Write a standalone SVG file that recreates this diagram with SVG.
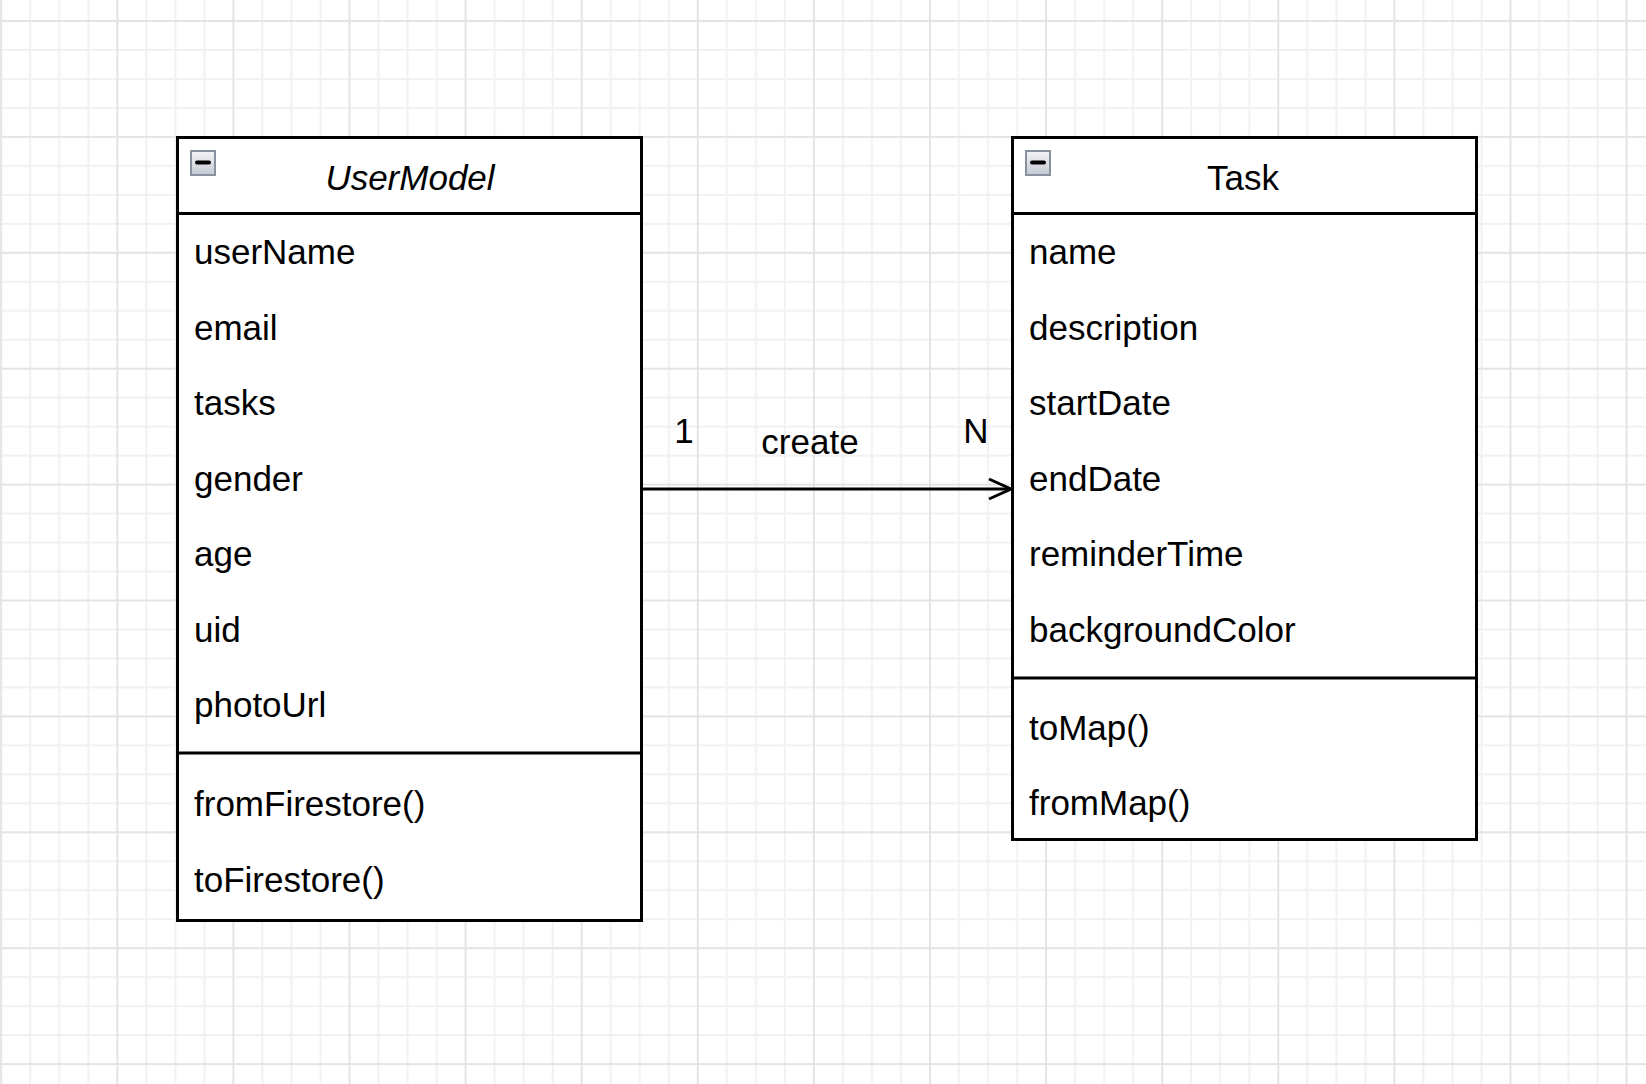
<svg xmlns="http://www.w3.org/2000/svg" width="1646" height="1084" viewBox="0 0 1646 1084">
  <style>
    .box { fill: #ffffff; stroke: #000000; stroke-width: 3; }
    .sep { stroke: #000000; stroke-width: 3; fill: none; }
    .t { font-family: "Liberation Sans", Arial, Helvetica, sans-serif; font-size: 35px; fill: #000000; }
    .title { text-anchor: middle; }
    .it { font-style: italic; }
    .edge { stroke: #000000; stroke-width: 3; fill: none; }
    .icon { fill: url(#iconGrad); stroke: #8a919e; stroke-width: 2; }
    .minus { stroke: #000000; stroke-width: 4; stroke-linecap: round; }
  </style>
  <defs>
    <pattern id="grid" patternUnits="userSpaceOnUse" x="0.2" y="20" width="116.1" height="115.9">
      <path d="M30.025 0V115.9M59.05 0V115.9M88.075 0V115.9M0 29.975H116.1M0 58.95H116.1M0 87.925H116.1" stroke="#f1f1f1" stroke-width="2" fill="none"/>
      <path d="M1 0V115.9M0 1H116.1" stroke="#e4e4e4" stroke-width="2" fill="none"/>
    </pattern>
    <linearGradient id="iconGrad" x1="0" y1="0" x2="0" y2="1">
      <stop offset="0" stop-color="#f4f4f6"/>
      <stop offset="1" stop-color="#c5c9d1"/>
    </linearGradient>
  </defs>

  <rect x="0" y="0" width="1646" height="1084" fill="#ffffff"/>
  <rect x="0" y="0" width="1646" height="1084" fill="url(#grid)"/>

  <g id="connectors">
    <path class="edge" d="M642 489H1010"/>
    <path class="edge" d="M989 479L1011 489L989 499"/>
    <text class="t title" x="684" y="443">1</text>
    <text class="t title" x="810" y="454">create</text>
    <text class="t title" x="976" y="443">N</text>
  </g>

  <g id="UserModel">
    <rect class="box" x="177.5" y="137.5" width="464" height="783"/>
    <path class="sep" d="M177.5 213.5H641.5M177.5 753H641.5"/>
    <rect class="icon" x="191" y="151" width="24" height="24"/>
    <path class="minus" d="M197 162.5H209"/>
    <text class="t title it" x="410" y="190">UserModel</text>
    <text class="t" x="194" y="264">userName</text>
    <text class="t" x="194" y="340">email</text>
    <text class="t" x="194" y="415">tasks</text>
    <text class="t" x="194" y="491">gender</text>
    <text class="t" x="194" y="566">age</text>
    <text class="t" x="194" y="642">uid</text>
    <text class="t" x="194" y="717">photoUrl</text>
    <text class="t" x="194" y="816">fromFirestore()</text>
    <text class="t" x="194" y="892">toFirestore()</text>
  </g>

  <g id="Task">
    <rect class="box" x="1012.5" y="137.5" width="464" height="702"/>
    <path class="sep" d="M1012.5 213.5H1476.5M1012.5 678H1476.5"/>
    <rect class="icon" x="1026" y="151" width="24" height="24"/>
    <path class="minus" d="M1032 162.5H1044"/>
    <text class="t title" x="1243" y="190">Task</text>
    <text class="t" x="1029" y="264">name</text>
    <text class="t" x="1029" y="340">description</text>
    <text class="t" x="1029" y="415">startDate</text>
    <text class="t" x="1029" y="491">endDate</text>
    <text class="t" x="1029" y="566">reminderTime</text>
    <text class="t" x="1029" y="642">backgroundColor</text>
    <text class="t" x="1029" y="740">toMap()</text>
    <text class="t" x="1029" y="815">fromMap()</text>
  </g>
</svg>
